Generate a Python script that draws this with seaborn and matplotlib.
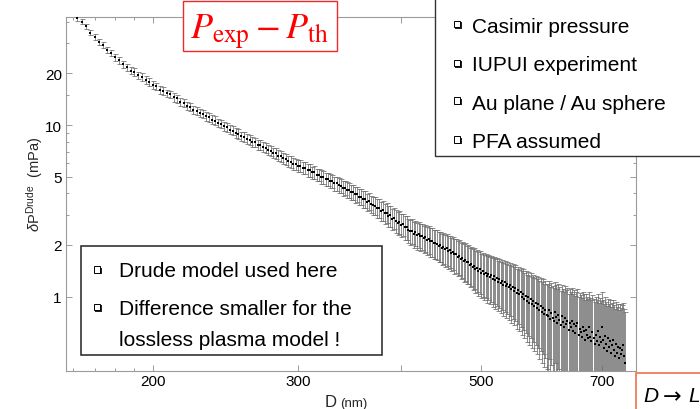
import matplotlib
matplotlib.use('Agg')
import numpy as np
import pandas as pd
import seaborn as sns
import matplotlib.pyplot as plt
from matplotlib.patches import Rectangle
from matplotlib.ticker import FixedLocator, FixedFormatter, NullFormatter

# ---------------- data ----------------
D_nm = [
    162, 164, 166, 168, 170, 172, 174, 176, 178, 180,
    182, 184, 186, 188, 190, 192, 194, 196, 198, 200,
    202, 204, 206, 208, 210, 212, 214, 216, 218, 220,
    222, 224, 226, 228, 230, 232, 234, 236, 238, 240,
    242, 244, 246, 248, 250, 252, 254, 256, 258, 260,
    262, 264, 266, 268, 270, 272, 274, 276, 278, 280,
    282, 284, 286, 288, 290, 292, 294, 296, 298, 300,
    302, 304, 306, 308, 310, 312, 314, 316, 318, 320,
    322, 324, 326, 328, 330, 332, 334, 336, 338, 340,
    342, 344, 346, 348, 350, 352, 354, 356, 358, 360,
    362, 364, 366, 368, 370, 372, 374, 376, 378, 380,
    382, 384, 386, 388, 390, 392, 394, 396, 398, 400,
    402, 404, 406, 408, 410, 412, 414, 416, 418, 420,
    422, 424, 426, 428, 430, 432, 434, 436, 438, 440,
    442, 444, 446, 448, 450, 452, 454, 456, 458, 460,
    462, 464, 466, 468, 470, 472, 474, 476, 478, 480,
    482, 484, 486, 488, 490, 492, 494, 496, 498, 500,
    502, 504, 506, 508, 510, 512, 514, 516, 518, 520,
    522, 524, 526, 528, 530, 532, 534, 536, 538, 540,
    542, 544, 546, 548, 550, 552, 554, 556, 558, 560,
    562, 564, 566, 568, 570, 572, 574, 576, 578, 580,
    582, 584, 586, 588, 590, 592, 594, 596, 598, 600,
    602, 604, 606, 608, 610, 612, 614, 616, 618, 620,
    622, 624, 626, 628, 630, 632, 634, 636, 638, 640,
    642, 644, 646, 648, 650, 652, 654, 656, 658, 660,
    662, 664, 666, 668, 670, 672, 674, 676, 678, 680,
    682, 684, 686, 688, 690, 692, 694, 696, 698, 700,
    702, 704, 706, 708, 710, 712, 714, 716, 718, 720,
    722, 724, 726, 728, 730, 732, 734, 736, 738, 740,
    742, 744, 746,
]

dP_mPa = [
    42.0, 40.0, 37.6, 34.6, 32.5, 30.6, 29.3, 27.5, 26.3, 24.9,
    23.9, 22.6, 21.7, 20.8, 20.4, 19.5, 19.1, 18.3, 17.9, 17.2,
    16.8, 16.1, 15.9, 15.3, 15.1, 14.5, 14.3, 13.7, 13.5, 13.0,
    12.8, 12.3, 12.15, 11.75, 11.6, 11.25, 11.1, 10.75, 10.6, 10.3,
    10.15, 9.85, 9.7, 9.4, 9.28, 9.0, 8.88, 8.6, 8.52, 8.3,
    8.21, 8.0, 7.92, 7.7, 7.63, 7.42, 7.36, 7.15, 7.1, 6.9,
    6.84, 6.64, 6.6, 6.4, 6.35, 6.17, 6.12, 5.95, 5.92, 5.77,
    5.76, 5.61, 5.6, 5.45, 5.44, 5.29, 5.3, 5.14, 5.13, 5.0,
    4.99, 4.85, 4.84, 4.72, 4.7, 4.57, 4.58, 4.45, 4.44, 4.31,
    4.32, 4.2, 4.19, 4.07, 4.08, 3.95, 3.96, 3.82, 3.83, 3.7,
    3.70, 3.56, 3.59, 3.47, 3.40, 3.39, 3.28, 3.29, 3.17, 3.18,
    3.05, 3.08, 2.96, 2.97, 2.85, 2.88, 2.77, 2.70, 2.73, 2.62,
    2.64, 2.53, 2.55, 2.45, 2.40, 2.42, 2.33, 2.37, 2.28, 2.31,
    2.24, 2.26, 2.19, 2.21, 2.14, 2.17, 2.10, 2.11, 2.05, 2.06,
    2.03, 1.98, 1.99, 1.93, 1.95, 1.89, 1.91, 1.85, 1.86, 1.80,
    1.82, 1.76, 1.77, 1.71, 1.73, 1.66, 1.68, 1.62, 1.64, 1.58,
    1.59, 1.53, 1.55, 1.49, 1.51, 1.45, 1.47, 1.41, 1.44, 1.38,
    1.40, 1.35, 1.38, 1.32, 1.35, 1.30, 1.33, 1.27, 1.31, 1.25,
    1.28, 1.22, 1.26, 1.20, 1.23, 1.17, 1.21, 1.15, 1.19, 1.13,
    1.17, 1.10, 1.14, 1.08, 1.12, 1.05, 1.09, 1.03, 1.06, 1.00,
    1.04, 0.97, 1.01, 0.94, 0.99, 0.92, 0.97, 0.90, 0.94, 0.88,
    0.92, 0.86, 0.90, 0.83, 0.88, 0.81, 0.86, 0.79, 0.84, 0.78,
    0.77, 0.83, 0.74, 0.80, 0.75, 0.72, 0.81, 0.76, 0.70, 0.78,
    0.73, 0.68, 0.77, 0.71, 0.66, 0.75, 0.69, 0.72, 0.64, 0.70,
    0.66, 0.72, 0.63, 0.69, 0.61, 0.67, 0.70, 0.60, 0.65, 0.62,
    0.58, 0.66, 0.63, 0.56, 0.64, 0.60, 0.57, 0.66, 0.58, 0.55,
    0.62, 0.57, 0.53, 0.60, 0.55, 0.63, 0.52, 0.58, 0.54, 0.66,
    0.56, 0.50, 0.59, 0.53, 0.48, 0.57, 0.51, 0.55, 0.47, 0.52,
    0.56, 0.49, 0.45, 0.53, 0.47, 0.51, 0.44, 0.50, 0.46, 0.49,
    0.52, 0.45, 0.41,
]

dP_err = [
    1.35, 1.32, 1.30, 1.27, 1.25, 1.22, 1.20, 1.17, 1.15, 1.12,
    1.10, 1.07, 1.05, 1.02, 1.00, 0.98, 0.96, 0.94, 0.92, 0.90,
    0.88, 0.86, 0.84, 0.82, 0.80, 0.78, 0.77, 0.75, 0.74, 0.72,
    0.71, 0.70, 0.68, 0.67, 0.66, 0.65, 0.64, 0.63, 0.62, 0.61,
    0.60, 0.59, 0.58, 0.57, 0.56, 0.56, 0.55, 0.54, 0.54, 0.53,
    0.53, 0.52, 0.52, 0.51, 0.51, 0.50, 0.50, 0.50, 0.49, 0.49,
    0.49, 0.48, 0.48, 0.48, 0.47, 0.47, 0.47, 0.46, 0.46, 0.46,
    0.46, 0.45, 0.45, 0.45, 0.45, 0.44, 0.44, 0.44, 0.44, 0.44,
    0.43, 0.43, 0.43, 0.43, 0.43, 0.43, 0.43, 0.43, 0.43, 0.43,
    0.43, 0.43, 0.42, 0.42, 0.42, 0.42, 0.42, 0.42, 0.42, 0.42,
    0.41, 0.41, 0.41, 0.41, 0.41, 0.41, 0.41, 0.41, 0.41, 0.41,
    0.41, 0.41, 0.41, 0.41, 0.41, 0.41, 0.41, 0.41, 0.41, 0.41,
    0.40, 0.40, 0.40, 0.40, 0.40, 0.40, 0.40, 0.40, 0.40, 0.40,
    0.40, 0.40, 0.40, 0.40, 0.40, 0.40, 0.40, 0.40, 0.40, 0.40,
    0.40, 0.40, 0.40, 0.40, 0.40, 0.40, 0.40, 0.40, 0.40, 0.40,
    0.40, 0.40, 0.40, 0.40, 0.40, 0.40, 0.40, 0.40, 0.40, 0.40,
    0.40, 0.40, 0.40, 0.40, 0.40, 0.40, 0.40, 0.40, 0.40, 0.40,
    0.40, 0.40, 0.40, 0.40, 0.40, 0.40, 0.40, 0.40, 0.40, 0.40,
    0.40, 0.40, 0.40, 0.40, 0.40, 0.40, 0.40, 0.40, 0.40, 0.40,
    0.40, 0.40, 0.40, 0.40, 0.40, 0.40, 0.40, 0.40, 0.40, 0.40,
    0.40, 0.40, 0.40, 0.40, 0.40, 0.40, 0.40, 0.40, 0.40, 0.40,
    0.40, 0.40, 0.40, 0.40, 0.40, 0.40, 0.40, 0.40, 0.40, 0.40,
    0.40, 0.40, 0.40, 0.40, 0.40, 0.40, 0.40, 0.40, 0.40, 0.40,
    0.40, 0.40, 0.40, 0.40, 0.40, 0.40, 0.40, 0.40, 0.40, 0.40,
    0.40, 0.40, 0.40, 0.40, 0.40, 0.40, 0.40, 0.40, 0.40, 0.40,
    0.40, 0.40, 0.40, 0.40, 0.40, 0.40, 0.40, 0.40, 0.40, 0.40,
    0.40, 0.40, 0.40, 0.40, 0.40, 0.40, 0.40, 0.40, 0.40, 0.40,
    0.40, 0.40, 0.40, 0.40, 0.40, 0.40, 0.40, 0.40, 0.40, 0.40,
    0.40, 0.40, 0.40, 0.40, 0.40, 0.40, 0.40, 0.40, 0.40, 0.40,
    0.40, 0.40, 0.40,
]

x_major = [200, 300, 400, 500, 600, 700]
x_major_labels = ['200', '300', '', '500', '', '700']
x_minor = [160, 170, 180, 190]
y_major = [1, 2, 5, 10, 20]
y_major_labels = ['1', '2', '5', '10', '20']
y_minor = [3, 4, 6, 7, 8, 9, 15, 30, 40]

title_text = r'$P_{\mathrm{exp}} - P_{\mathrm{th}}$'
box_top_items = ['Casimir pressure', 'IUPUI experiment', 'Au plane / Au sphere', 'PFA assumed']
box_bottom_items = ['Drude model used here', 'Difference smaller for the', 'lossless plasma model !']
corner_parts = ['D', '\u2192', 'L']
xlabel_main, xlabel_unit = 'D', '(nm)'
ylabel_text = r'$\delta\mathrm{P}^{\mathrm{Drude}}$  (mPa)'

# ---------------- style ----------------
sns.set_theme(style='ticks')
plt.rcParams['font.family'] = ['Liberation Sans', 'DejaVu Sans']
plt.rcParams['mathtext.fontset'] = 'custom'
plt.rcParams['mathtext.rm'] = 'Liberation Sans'
plt.rcParams['mathtext.it'] = 'Liberation Sans:italic'
plt.rcParams['mathtext.bf'] = 'Liberation Sans:bold'

W, H = 700, 410
fig = plt.figure(figsize=(W / 100, H / 100), dpi=100)
fig.patch.set_facecolor('white')

def fx(x):
    return x / W

def fy(y):
    return 1 - y / H

ax = fig.add_axes([fx(66), fy(372), (636 - 66) / W, (372 - 18.3) / H])
ax.set_facecolor('white')
ax.set_xscale('log')
ax.set_yscale('log')

df = pd.DataFrame({'D': D_nm, 'dP': dP_mPa, 'err': dP_err})

ax.errorbar(df['D'], df['dP'], yerr=df['err'], fmt='none', ecolor='#6c6c6c',
            elinewidth=0.55, capsize=1.8, capthick=0.55, zorder=2)
sns.scatterplot(data=df, x='D', y='dP', ax=ax, marker='s', s=4,
                color='black', linewidth=0, zorder=3, legend=False)

ax.set_xlim(157, 770)
ax.set_ylim(0.368, 42.5)
ax.set_xlabel('')
ax.set_ylabel('')

ax.xaxis.set_major_locator(FixedLocator(x_major))
ax.xaxis.set_major_formatter(FixedFormatter(x_major_labels))
ax.xaxis.set_minor_locator(FixedLocator(x_minor))
ax.xaxis.set_minor_formatter(NullFormatter())
ax.yaxis.set_major_locator(FixedLocator(y_major))
ax.yaxis.set_major_formatter(FixedFormatter(y_major_labels))
ax.yaxis.set_minor_locator(FixedLocator(y_minor))
ax.yaxis.set_minor_formatter(NullFormatter())

for sp in ax.spines.values():
    sp.set_visible(True)
    sp.set_color('#9a9a9a')
    sp.set_linewidth(0.8)

ax.tick_params(which='both', direction='in', top=True, right=True,
               color='#8a8a8a', width=0.6, labelcolor='black', labelsize=11)
ax.tick_params(which='major', length=4)
ax.tick_params(which='minor', length=2.3)
ax.tick_params(axis='x', which='both', pad=2.5)
ax.tick_params(axis='y', which='both', pad=3)

# ---------------- annotations ----------------
def box(x0, y0, x1, y1, ec, lw):
    fig.add_artist(Rectangle((fx(x0), fy(y1)), (x1 - x0) / W, (y1 - y0) / H,
                             transform=fig.transFigure, facecolor='white',
                             edgecolor=ec, linewidth=lw, zorder=5, clip_on=False))

def bullet(cx, cy, s=6.5):
    fig.add_artist(Rectangle((fx(cx - s / 2 + 1.4), fy(cy + s / 2 + 1.4)), s / W, s / H,
                             transform=fig.transFigure, facecolor='#222222',
                             edgecolor='none', zorder=6))
    fig.add_artist(Rectangle((fx(cx - s / 2), fy(cy + s / 2)), s / W, s / H,
                             transform=fig.transFigure, facecolor='white',
                             edgecolor='black', linewidth=0.7, zorder=7))

# red title box
box(183, 2, 337, 52, '#ee2a2a', 1.0)
fig.text(fx(259.5), fy(39.5), title_text, color='#ff0000', fontsize=26,
         ha='center', va='baseline', math_fontfamily='stix', zorder=8)

# top-right info box
box(435, -5, 712, 157, '#333333', 1.0)
for cy, base, t in zip([25, 64, 101.7, 140.5], [32.7, 70.8, 109.5, 148.2], box_top_items):
    bullet(457, cy)
    fig.text(fx(472), fy(base), t, fontsize=15, color='black', ha='left',
             va='baseline', zorder=8)

# bottom-left info box
box(81, 247, 382, 356, '#222222', 1.1)
bullet(97, 270.7)
bullet(97, 308)
for base, t in zip([277.3, 315, 346], box_bottom_items):
    fig.text(fx(119), fy(base), t, fontsize=15, color='black', ha='left',
             va='baseline', zorder=8)

# bottom-right D -> L box (cut by the picture edge, as in the reference)
box(636, 374, 712, 420, '#f07a5a', 1.3)
fig.text(fx(643), fy(402), corner_parts[0], fontsize=15, fontstyle='italic',
         color='black', ha='left', va='baseline', zorder=8)
fig.text(fx(672), fy(403), corner_parts[1], fontsize=16,
         family=['DejaVu Sans'], color='black', ha='center', va='baseline', zorder=8)
fig.text(fx(688), fy(402), corner_parts[2], fontsize=15, fontstyle='italic',
         color='black', ha='left', va='baseline', zorder=8)

# axis labels
fig.text(fx(325), fy(407), xlabel_main, fontsize=12, ha='left', va='baseline')
fig.text(fx(340), fy(407), xlabel_unit, fontsize=9.5, ha='left', va='baseline')
fig.text(fx(35), fy(184), ylabel_text, fontsize=10.5, rotation=90,
         ha='center', va='center')

fig.savefig('out.png', dpi=100)
